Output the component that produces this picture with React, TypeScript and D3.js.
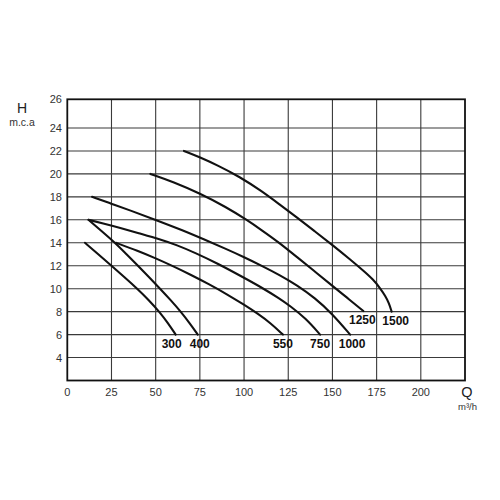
import React from "react";
import * as d3 from "d3";

const xTicks = [0, 25, 50, 75, 100, 125, 150, 175, 200];
const yTicks = [4, 6, 8, 10, 12, 14, 16, 18, 20, 22, 24, 26];
const xGrid = [25, 50, 75, 100, 125, 150, 175, 200];
const yGrid = [4, 6, 8, 10, 12, 14, 16, 18, 20, 22, 24];

const seriesNames = ["300", "400", "550", "750", "1000", "1250", "1500"];

const q300 = [10, 17.5, 25, 32.4, 39.6, 46.2, 52, 57, 61.3];
const h300 = [14, 13, 12, 11, 10, 9, 8, 7, 6];

const q400 = [12, 19.5, 27, 33.5, 40, 46.3, 52.5, 58.5, 64.2, 69.2, 73.8];
const h400 = [16, 15, 14, 13, 12, 11, 10, 9, 8, 7, 6];

const q550 = [27.5, 40, 50, 60, 70, 80, 90, 100, 108, 115, 122];
const h550 = [14, 13.3, 12.65, 11.95, 11.2, 10.4, 9.55, 8.6, 7.8, 7.0, 6];

const q750 = [12, 20, 30, 40, 52.6, 62, 72, 85, 100, 110, 120, 126, 135, 143];
const h750 = [16, 15.7, 15.3, 14.85, 14.3, 13.8, 13.15, 12.2, 10.95, 10.1, 9.15, 8.5, 7.4, 6];

const q1000 = [14, 25, 35, 50, 65, 78, 90, 100, 110, 120, 130, 140, 150, 160];
const h1000 = [18, 17.4, 16.85, 16, 15.1, 14.25, 13.45, 12.75, 12.0, 11.2, 10.3, 9.2, 7.8, 6];

const q1250 = [47, 60, 75, 90, 101.5, 110, 120, 130, 140, 150, 158, 167.5];
const h1250 = [20, 19.3, 18.3, 17.1, 16, 15.1, 14.0, 12.75, 11.5, 10.25, 9.25, 8.05];

const q1500 = [66, 75, 85, 97.5, 110, 120, 130, 140, 150, 160, 168, 173, 177, 180, 182, 183.5];
const h1500 = [22, 21.45, 20.75, 19.75, 18.5, 17.35, 16.2, 15.0, 13.8, 12.55, 11.5, 10.8, 10.05, 9.35, 8.75, 8];

const seriesQ = [q300, q400, q550, q750, q1000, q1250, q1500];
const seriesH = [h300, h400, h550, h750, h1000, h1250, h1500];

const labelDx: Record<string, number> = { "300": -4, "400": 2, "1000": 2, "1250": -1, "1500": 4 };

export default function App() {
  const x = d3.scaleLinear().domain([0, 225]).range([67.3, 465]);
  const y = d3.scaleLinear().domain([2, 24, 26]).range([380.5, 128, 99.3]);

  const line = d3
    .line<[number, number]>()
    .x((d) => x(d[0]))
    .y((d) => y(d[1]))
    .curve(d3.curveBasis);

  const font = "'Liberation Sans', Arial, sans-serif";
  const gridColor = "#3a3a3a";

  return (
    <svg
      width={500}
      height={500}
      style={{ position: "absolute", left: 0, top: 0, background: "#fff" }}
      fontFamily={font}
    >
      <rect x={0} y={0} width={500} height={500} fill="#fff" />
      {xGrid.map((v) => (
        <line key={"xg" + v} x1={x(v)} x2={x(v)} y1={y(26)} y2={y(2)} stroke={gridColor} strokeWidth={1.1} />
      ))}
      {yGrid.map((v) => (
        <line key={"yg" + v} x1={x(0)} x2={x(225)} y1={y(v)} y2={y(v)} stroke={gridColor} strokeWidth={1.1} />
      ))}
      <rect
        x={x(0)}
        y={y(26)}
        width={x(225) - x(0)}
        height={y(2) - y(26)}
        fill="none"
        stroke="#111"
        strokeWidth={1.8}
      />
      {seriesQ.map((qs, i) => {
        const pts: [number, number][] = qs.map((q, j) => [q, seriesH[i][j]]);
        return (
          <path key={"s" + i} d={line(pts) || ""} fill="none" stroke="#111" strokeWidth={2.1} strokeLinecap="round" />
        );
      })}
      {seriesQ.map((qs, i) => {
        const n = qs.length - 1;
        return (
          <text
            key={"l" + i}
            x={x(qs[n]) + (labelDx[seriesNames[i]] || 0)}
            y={y(seriesH[i][n]) + 13}
            textAnchor="middle"
            fontSize={12}
            fontWeight="bold"
            fill="#111"
          >
            {seriesNames[i]}
          </text>
        );
      })}
      {yTicks.map((v) => (
        <text key={"yt" + v} x={62} y={y(v) + 4} textAnchor="end" fontSize={11} fill="#333">
          {v}
        </text>
      ))}
      {xTicks.map((v) => (
        <text key={"xt" + v} x={x(v)} y={396} textAnchor="middle" fontSize={11} fill="#333">
          {v}
        </text>
      ))}
      <text x={22} y={113} textAnchor="middle" fontSize={14} fill="#222">H</text>
      <text x={22} y={126} textAnchor="middle" fontSize={10.5} fill="#333">m.c.a</text>
      <text x={467} y={397} textAnchor="middle" fontSize={14.5} fill="#222">Q</text>
      <text x={467.5} y={410} textAnchor="middle" fontSize={9.5} fill="#333">m³/h</text>
    </svg>
  );
}
